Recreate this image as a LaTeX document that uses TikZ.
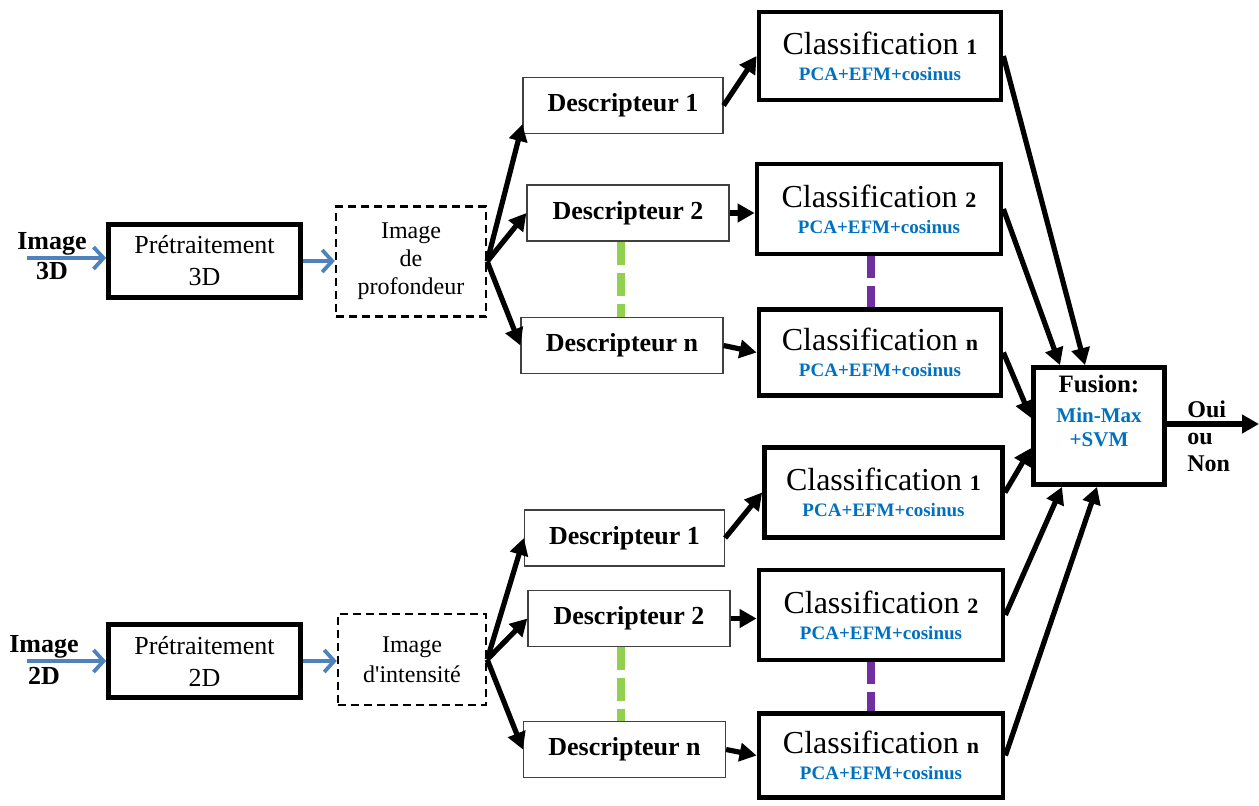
\documentclass[tikz,border=0pt]{standalone}
\usepackage{fontspec}
\setmainfont{Liberation Serif}
\usepackage{xcolor}
\usetikzlibrary{arrows.meta, calc}
\definecolor{clsblue}{HTML}{0070C0}
\definecolor{arrblue}{HTML}{4F81BD}
\definecolor{sepgreen}{HTML}{92D050}
\definecolor{seppurple}{HTML}{7030A0}
\newcommand{\clstext}[1]{Classification {\bfseries\fontsize{11}{12}\selectfont #1}\\[-1pt]
  {\color{clsblue}\bfseries\fontsize{9.5}{11}\selectfont PCA+EFM+cosinus}}

\begin{document}
\begin{tikzpicture}[x=0.5pt, y=-0.5pt,
    pre/.style={draw, line width=2.4pt, minimum width=96pt, minimum height=36.5pt, inner sep=0pt, align=center, font=\fontsize{13}{16}\selectfont},
    img/.style={draw, line width=1.2pt, dash pattern=on 4pt off 2.5pt, minimum width=75pt, minimum height=55pt, inner sep=0pt, align=center, font=\fontsize{12}{14}\selectfont},
    desc/.style={draw=black!75, line width=0.6pt, minimum width=100pt, minimum height=28pt, inner sep=0pt, font=\fontsize{13}{15}\selectfont\bfseries},
    cls/.style={draw, line width=2.4pt, minimum width=121pt, minimum height=44pt, inner sep=0pt, align=center, font=\fontsize{16}{14}\selectfont},
    inlbl/.style={inner sep=0pt, align=center, font=\fontsize{13}{15}\selectfont\bfseries},
    arr/.style={-{Triangle[length=8.5pt,width=9pt]}, line width=2.6pt},
    barr/.style={-{Straight Barb[length=5pt,width=11pt]}, arrblue, line width=1.9pt},
    gdash/.style={sepgreen, line width=4pt, dash pattern=on 11.5pt off 4pt},
    pdash/.style={seppurple, line width=4pt, dash pattern=on 11pt off 4pt}]
  \useasboundingbox (0,0) rectangle (1259,805);

  % 3D branch
  \node[inlbl] (in3) at (52,256) {Image\\3D};
  \coordinate (s3) at (27,258);
  \node[pre] (pre3) at (204.5,261) {Prétraitement\\3D};
  \node[img] (dep) at (411,261.5) {Image\\de\\profondeur};
  \node[desc] (d31) at (623,105.5) {Descripteur 1};
  \node[desc, minimum width=101pt] (d32) at (628,213) {Descripteur 2};
  \node[desc, minimum width=101pt] (d3n) at (622,345.5) {Descripteur n};
  \node[cls] (c31) at (880,56) {\clstext{1}};
  \node[cls, minimum width=122pt, minimum height=45pt] (c32) at (879,209) {\clstext{2}};
  \node[cls, minimum height=43pt] (c3n) at (880,352.5) {\clstext{n}};

  % 2D branch
  \node[inlbl, font=\fontsize{13}{16}\selectfont\bfseries] (in2) at (44,660) {Image\\2D};
  \coordinate (s2) at (27,661);
  \node[pre] (pre2) at (204.5,661) {Prétraitement\\2D};
  \node[img, minimum width=74pt, minimum height=45.5pt, font=\fontsize{12}{15}\selectfont] (int) at (412,659.5) {Image\\d\textquotesingle intensité};
  \node[desc] (d21) at (624.5,538) {Descripteur 1};
  \node[desc, minimum width=101pt] (d22) at (629,618.5) {Descripteur 2};
  \node[desc, minimum width=101pt] (d2n) at (624.5,749.5) {Descripteur n};
  \node[cls, minimum width=119pt, minimum height=45pt] (c21) at (883.5,492.5) {\clstext{1}};
  \node[cls, minimum width=122pt, minimum height=45pt] (c22) at (881,615) {\clstext{2}};
  \node[cls, minimum width=122pt, minimum height=42pt] (c2n) at (881,755.5) {\clstext{n}};

  % fusion
  \node[cls, minimum width=65.5pt, minimum height=58.5pt] (fus) at (1099,426) {};
  \node[anchor=north, inner sep=0pt, align=center, font=\bfseries] (fustx) at ([yshift=-5pt]fus.north)
    {{\fontsize{12.5}{14}\selectfont Fusion:}\\[3pt]{\color{clsblue}\fontsize{10.5}{11}\selectfont Min-Max}\\{\color{clsblue}\fontsize{10.5}{11}\selectfont +SVM}};
  \coordinate (out) at (1259,424);
  \node[anchor=west, inner sep=0pt, align=left, font=\fontsize{12}{13.5}\selectfont\bfseries] (res) at (1187,436) {Oui\\ou\\Non};

  \draw[barr] (s3) -- (s3 -| pre3.west);
  \draw[barr] (s2) -- (s2 -| pre2.west);
  \draw[barr] (pre3.east) -- (pre3.east -| dep.west);
  \draw[barr] (pre2.east) -- (pre2.east -| int.west);

  \draw[arr] (dep.east) -- ($(d31.south west)+(0,-10)$);
  \foreach \n in {d32,d3n} \draw[arr] (dep.east) -- (\n.west);
  \foreach \n in {d21,d22,d2n} \draw[arr] (int.east) -- (\n.west);
  \foreach \a/\b in {d31/c31,d3n/c3n,d21/c21,d2n/c2n} \draw[arr] (\a.east) -- (\b.west);
  \draw[arr] (d32.east) -- (d32.east -| c32.west);
  \draw[arr] (d22.east) -- (d22.east -| c22.west);

  \draw[arr] (c31.east) -- ($(fus.north)+(-14,0)$);
  \draw[arr] (c32.east) -- ($(fus.north)+(-39,0)$);
  \draw[arr] (c3n.east) -- ($(fus.west)+(0,-8)$);
  \draw[arr] (c21.east) -- ($(fus.west)+(0,22)$);
  \draw[arr] (c22.east) -- ($(fus.south)+(-37,0)$);
  \draw[arr] (c2n.east) -- ($(fus.south)+(-2,0)$);
  \draw[arr] (out -| fus.east) -- (out);

  \draw[gdash] ($(d32.south)+(-7,0)$) -- ($(d3n.north)+(-1,0)$);
  \draw[gdash] ($(d22.south)+(-8,0)$) -- ($(d2n.north)+(-3.5,0)$);
  \draw[pdash] ($(c32.south)+(-8,0)$) -- ($(c3n.north)+(-9,0)$);
  \draw[pdash] ($(c22.south)+(-10,0)$) -- ($(c2n.north)+(-10,0)$);
\end{tikzpicture}
\end{document}
